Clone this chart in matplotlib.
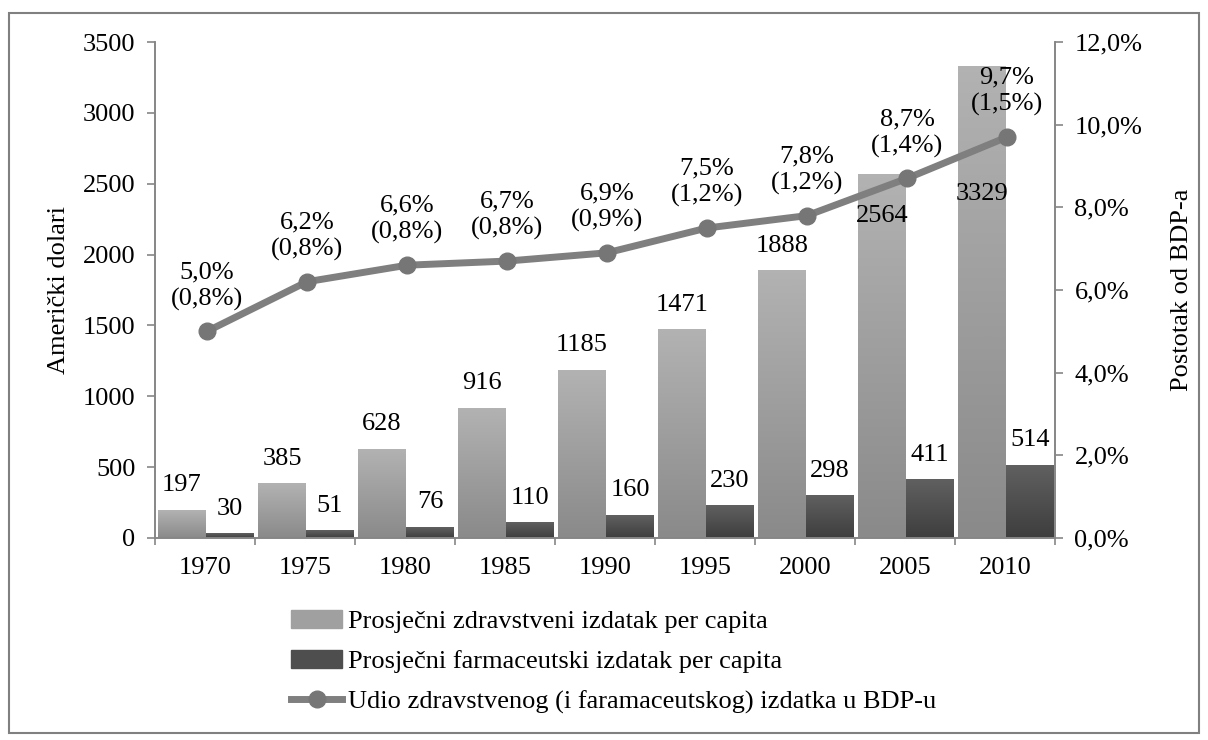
import numpy as np
import matplotlib.pyplot as plt
from matplotlib.colors import LinearSegmentedColormap
from matplotlib.patches import Rectangle
from matplotlib.lines import Line2D

years = ["1970", "1975", "1980", "1985", "1990", "1995", "2000", "2005", "2010"]
health = [197, 385, 628, 916, 1185, 1471, 1888, 2564, 3329]
pharma = [30, 51, 76, 110, 160, 230, 298, 411, 514]
gdp_share = [5.0, 6.2, 6.6, 6.7, 6.9, 7.5, 7.8, 8.7, 9.7]
pharma_share = [0.8, 0.8, 0.8, 0.8, 0.9, 1.2, 1.2, 1.4, 1.5]

plt.rcParams["font.family"] = ["Liberation Serif", "DejaVu Serif"]
plt.rcParams["font.size"] = 19

GRID = "#868686"
LIGHT = ("#8a8a8a", "#b2b2b2")   # bottom, top
DARK = ("#3e3e3e", "#606060")
LINE = "#7f7f7f"


def grad_bar(ax, xc, h, w, cols):
    """Excel-like vertical gradient bar"""
    cmap = LinearSegmentedColormap.from_list("g", list(cols))
    img = np.linspace(0, 1, 64).reshape(-1, 1)
    ax.imshow(img, extent=(xc - w / 2, xc + w / 2, 0, h), origin="lower",
              cmap=cmap, aspect="auto", zorder=2, interpolation="bilinear")


def pct(v):
    return f"{v:.1f}%".replace(".", ",")


fig = plt.figure(figsize=(12.08, 7.40), dpi=100)
ax = fig.add_axes([0.1283, 0.273, 0.745, 0.6702])
ax2 = ax.twinx()

x = np.arange(len(years))
w = 0.48
for i in x:
    grad_bar(ax, i - 0.23, health[i], w, LIGHT)
    grad_bar(ax, i + 0.25, pharma[i], w, DARK)

# bar value labels (last two were dragged into the bars in the original)
light_off = {7: -38, 8: -100}
for i in x:
    off = light_off.get(i, 10)
    ax.annotate(str(health[i]), (i - 0.23, health[i]), xytext=(0, off),
                textcoords="offset points", ha="center", va="bottom", zorder=4)
    ax.annotate(str(pharma[i]), (i + 0.25, pharma[i]), xytext=(0, 10),
                textcoords="offset points", ha="center", va="bottom", zorder=4)

ax.set_xlim(-0.5, len(years) - 0.5)
ax.set_ylim(0, 3500)
ax.set_yticks(np.arange(0, 3501, 500))
ax.set_xticks(x)
ax.set_xticklabels(years)
ax.set_xticks(np.arange(-0.5, len(years), 1), minor=True)
ax.tick_params(axis="x", which="major", length=0, pad=14)
ax.tick_params(axis="x", which="minor", length=5, color=GRID, width=1.2)
ax.tick_params(axis="y", length=6, color=GRID, width=1.2, pad=8)

# share of GDP line
ax2.plot(x + 0.02, gdp_share, color=LINE, lw=5, marker="o", ms=12,
         mfc="#767676", mec="#767676", zorder=5, solid_capstyle="round")
for i in x:
    ax2.annotate(f"{pct(gdp_share[i])}\n({pct(pharma_share[i])})",
                 (i + 0.02, gdp_share[i]), xytext=(0, 15),
                 textcoords="offset points", ha="center", va="bottom",
                 linespacing=1.25, zorder=6)
ax2.set_ylim(0, 12)
ax2.set_yticks(np.arange(0, 12.1, 2))
ax2.set_yticklabels([pct(v) for v in np.arange(0, 12.1, 2)])
ax2.tick_params(axis="y", length=6, color=GRID, width=1.2, pad=8)

for a in (ax, ax2):
    a.spines["top"].set_visible(False)
    for s in ("left", "right", "bottom"):
        a.spines[s].set_color(GRID)
        a.spines[s].set_linewidth(1.2)
    a.set_facecolor("none")

fig.text(59 / 1208, 1 - 290 / 740, "Američki dolari", rotation=90,
         ha="center", va="center")
fig.text(1182 / 1208, 1 - 290 / 740, "Postotak od BDP-a", rotation=90,
         ha="center", va="center")

handles = [
    Rectangle((0, 0), 1, 1, color="#a0a0a0"),
    Rectangle((0, 0), 1, 1, color="#4e4e4e"),
    Line2D([], [], color=LINE, lw=5, marker="o", ms=12, mfc="#767676", mec="#767676"),
]
labels = ["Prosječni zdravstveni izdatak per capita",
          "Prosječni farmaceutski izdatak per capita",
          "Udio zdravstvenog (i faramaceutskog) izdatka u BDP-u"]
fig.legend(handles, labels, loc="upper left",
           bbox_to_anchor=(291 / 1208, 1 - 610 / 740), frameon=False,
           handlelength=1.95, handletextpad=0.22, labelspacing=0.62,
           borderaxespad=0, borderpad=0)

fig.patches.append(Rectangle((9 / 1208, 7 / 740), 1190 / 1208, 720 / 740,
                             transform=fig.transFigure, fill=False,
                             ec="#808080", lw=1.5))

fig.savefig("out.png", dpi=100)
